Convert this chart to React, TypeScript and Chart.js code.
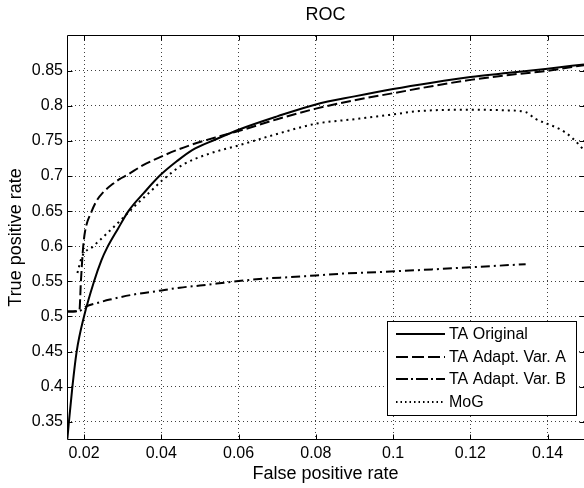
import { useEffect, useRef } from 'react';
import { Chart, registerables } from 'chart.js';

Chart.register(...registerables);

const FONT = '"Liberation Sans", Arial, Helvetica, sans-serif';

const chartTitle = 'ROC';
const xAxisTitle = 'False positive rate';
const yAxisTitle = 'True positive rate';

const xTickValues = [0.02, 0.04, 0.06, 0.08, 0.1, 0.12, 0.14];
const xTickLabels = ['0.02', '0.04', '0.06', '0.08', '0.1', '0.12', '0.14'];
const yTickValues = [0.35, 0.4, 0.45, 0.5, 0.55, 0.6, 0.65, 0.7, 0.75, 0.8, 0.85];
const yTickLabels = ['0.35', '0.4', '0.45', '0.5', '0.55', '0.6', '0.65', '0.7', '0.75', '0.8', '0.85'];

const seriesLabels = ['TA Original', 'TA Adapt. Var. A', 'TA Adapt. Var. B', 'MoG'];

const origFpr = [0.0157, 0.0161, 0.017, 0.0181, 0.02, 0.0226, 0.0245, 0.0259, 0.0288, 0.0315, 0.0355, 0.0397, 0.044, 0.048, 0.054, 0.06, 0.07, 0.08, 0.09, 0.1, 0.11, 0.12, 0.13, 0.14, 0.1494];
const origTpr = [0.326, 0.35, 0.4, 0.45, 0.5, 0.55, 0.58, 0.597, 0.625, 0.65, 0.676, 0.701, 0.721, 0.737, 0.752, 0.766, 0.785, 0.802, 0.8135, 0.824, 0.833, 0.841, 0.847, 0.853, 0.859];

const varAFpr = [0.0156, 0.0188, 0.0192, 0.0198, 0.0203, 0.022, 0.0233, 0.025, 0.0275, 0.0293, 0.031, 0.0353, 0.0397, 0.044, 0.0475, 0.054, 0.06, 0.07, 0.08, 0.09, 0.1, 0.11, 0.12, 0.13, 0.14, 0.1494];
const varATpr = [0.507, 0.508, 0.55, 0.6, 0.622, 0.65, 0.665, 0.677, 0.689, 0.696, 0.701, 0.7155, 0.727, 0.737, 0.744, 0.755, 0.764, 0.781, 0.796, 0.808, 0.818, 0.828, 0.837, 0.844, 0.85, 0.858];

const varBFpr = [0.0156, 0.0188, 0.0205, 0.0233, 0.0267, 0.0336, 0.0401, 0.0448, 0.05, 0.0594, 0.0663, 0.0732, 0.08, 0.0869, 0.0972, 0.11, 0.12, 0.1343];
const varBTpr = [0.507, 0.508, 0.514, 0.519, 0.524, 0.532, 0.537, 0.541, 0.544, 0.55, 0.5537, 0.556, 0.5584, 0.561, 0.5634, 0.567, 0.57, 0.5745];

const mogFpr = [0.0183, 0.0194, 0.0224, 0.0259, 0.0293, 0.0327, 0.037, 0.0405, 0.0457, 0.0525, 0.06, 0.07, 0.08, 0.09, 0.099, 0.1067, 0.12, 0.13, 0.1343, 0.1368, 0.1398, 0.1433, 0.1463, 0.1494];
const mogTpr = [0.562, 0.584, 0.6, 0.618, 0.636, 0.655, 0.677, 0.695, 0.7165, 0.732, 0.7436, 0.76, 0.7745, 0.781, 0.787, 0.7925, 0.7944, 0.7935, 0.791, 0.7816, 0.7745, 0.7664, 0.7545, 0.737];

const plotDashes: number[][] = [[], [10, 4], [9, 4, 2, 4], [2, 4]];
const legendDashes: number[][] = [[], [12, 4], [12, 3, 2, 3], [1.5, 3]];

const toPoints = (xs: number[], ys: number[]) => xs.map((x, i) => ({ x, y: ys[i] }));

const titlePlugin = {
  id: 'matTitle',
  afterDraw(chart: any) {
    const { ctx, chartArea } = chart;
    ctx.save();
    ctx.font = `18px ${FONT}`;
    ctx.fillStyle = '#000';
    ctx.textAlign = 'center';
    ctx.textBaseline = 'middle';
    ctx.fillText(chartTitle, (chartArea.left + chartArea.right) / 2, 15);
    ctx.restore();
  },
};

const framePlugin = {
  id: 'matFrame',
  afterDraw(chart: any) {
    const { ctx, chartArea, scales } = chart;
    const l = Math.round(chartArea.left) + 0.5;
    const r = Math.round(chartArea.right) + 0.5;
    const t = Math.round(chartArea.top) - 0.5;
    const b = Math.round(chartArea.bottom) + 0.5;
    ctx.save();
    ctx.strokeStyle = '#000';
    ctx.lineWidth = 1;
    ctx.setLineDash([]);
    ctx.beginPath();
    ctx.moveTo(l, t);
    ctx.lineTo(r, t);
    ctx.lineTo(r, b);
    ctx.lineTo(l, b);
    ctx.closePath();
    ctx.stroke();
    const tl = 5;
    ctx.beginPath();
    xTickValues.forEach((v) => {
      const px = Math.round(scales.x.getPixelForValue(v)) + 0.5;
      ctx.moveTo(px, b);
      ctx.lineTo(px, b - tl);
      ctx.moveTo(px, t);
      ctx.lineTo(px, t + tl);
    });
    yTickValues.forEach((v) => {
      const py = Math.round(scales.y.getPixelForValue(v)) + 0.5;
      ctx.moveTo(l, py);
      ctx.lineTo(l + tl, py);
      ctx.moveTo(r, py);
      ctx.lineTo(r - tl, py);
    });
    ctx.stroke();
    ctx.restore();
  },
};

const legendPlugin = {
  id: 'matLegend',
  afterDraw(chart: any) {
    const { ctx, chartArea } = chart;
    const w = 189;
    const h = 94;
    const right = Math.round(chartArea.right) - 8;
    const bottom = Math.round(chartArea.bottom) - 24;
    const left = right - w;
    const top = bottom - h;
    ctx.save();
    ctx.fillStyle = '#fff';
    ctx.fillRect(left, top, w, h);
    ctx.strokeStyle = '#000';
    ctx.lineWidth = 1;
    ctx.setLineDash([]);
    ctx.strokeRect(left + 0.5, top + 0.5, w, h);
    ctx.font = `16px ${FONT}`;
    ctx.fillStyle = '#000';
    ctx.textAlign = 'left';
    ctx.textBaseline = 'middle';
    chart.data.datasets.forEach((ds: any, i: number) => {
      const y = top + 13 + i * 22.5;
      ctx.beginPath();
      ctx.setLineDash(legendDashes[i]);
      ctx.lineWidth = 2;
      ctx.moveTo(left + 9, Math.round(y));
      ctx.lineTo(left + 58, Math.round(y));
      ctx.stroke();
      ctx.setLineDash([]);
      ctx.fillText(ds.label, left + 62, y + 1);
    });
    ctx.restore();
  },
};

export default function App() {
  const ref = useRef<HTMLCanvasElement>(null);

  useEffect(() => {
    const canvas = ref.current;
    if (!canvas) return;
    const series = [
      toPoints(origFpr, origTpr),
      toPoints(varAFpr, varATpr),
      toPoints(varBFpr, varBTpr),
      toPoints(mogFpr, mogTpr),
    ];
    const chart = new Chart(canvas, {
      type: 'line',
      data: {
        datasets: series.map((pts, i) => ({
          label: seriesLabels[i],
          data: pts,
          borderColor: '#000',
          backgroundColor: '#000',
          borderWidth: 2,
          borderDash: plotDashes[i],
          pointRadius: 0,
          pointHoverRadius: 0,
          fill: false,
          cubicInterpolationMode: 'monotone',
        })),
      },
      options: {
        animation: false,
        responsive: false,
        devicePixelRatio: 1,
        layout: { padding: { top: 36, left: 0, right: 0, bottom: 0 } },
        plugins: {
          legend: { display: false },
          title: { display: false },
          tooltip: { enabled: false },
        },
        events: [],
        scales: {
          x: {
            type: 'linear',
            min: 0.0156,
            max: 0.1494,
            afterBuildTicks: (scale: any) => {
              scale.ticks = xTickValues.map((v) => ({ value: v }));
            },
            afterFit: (scale: any) => {
              scale.height = 49;
            },
            ticks: {
              autoSkip: false,
              maxRotation: 0,
              minRotation: 0,
              padding: 5,
              color: '#000',
              font: { family: FONT, size: 16 },
              callback: (_v: any, i: number) => xTickLabels[i],
            },
            grid: {
              drawTicks: false,
              color: 'rgba(0,0,0,0.75)',
              lineWidth: 1,
            },
            border: { display: false, dash: [1, 3] },
            title: {
              display: true,
              text: xAxisTitle,
              color: '#000',
              font: { family: FONT, size: 18 },
              padding: { top: 0, bottom: 3 },
            },
          },
          y: {
            type: 'linear',
            min: 0.3254,
            max: 0.8995,
            afterBuildTicks: (scale: any) => {
              scale.ticks = yTickValues.map((v) => ({ value: v }));
            },
            afterFit: (scale: any) => {
              scale.width = 67;
            },
            ticks: {
              autoSkip: false,
              padding: 4,
              color: '#000',
              font: { family: FONT, size: 16 },
              callback: (_v: any, i: number) => yTickLabels[i],
            },
            grid: {
              drawTicks: false,
              color: 'rgba(0,0,0,0.75)',
              lineWidth: 1,
            },
            border: { display: false, dash: [1, 3] },
            title: {
              display: true,
              text: yAxisTitle,
              color: '#000',
              font: { family: FONT, size: 18 },
              padding: { top: 5, bottom: 0 },
            },
          },
        },
      },
      plugins: [framePlugin, legendPlugin, titlePlugin],
    } as any);
    return () => chart.destroy();
  }, []);

  return (
    <div style={{ position: 'fixed', left: 0, top: 0, width: 584, height: 488, background: '#fff' }}>
      <canvas ref={ref} width={584} height={488} style={{ display: 'block', width: 584, height: 488 }} />
    </div>
  );
}
